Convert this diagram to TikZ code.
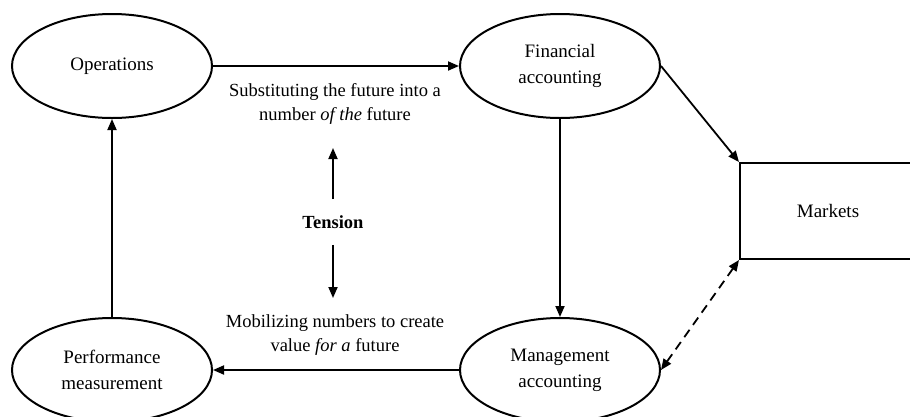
\documentclass[tikz,border=0pt]{standalone}
\usepackage{fontspec}
\setmainfont{Liberation Serif}
\usetikzlibrary{shapes,positioning,arrows.meta,calc}

\begin{document}
\begin{tikzpicture}[x=1pt,y=-1pt]

	\tikzstyle{stdell}=[draw, ellipse, line width=2pt, inner sep=0pt, minimum width=200pt, minimum height=104pt, align=center, font=\fontsize{19}{26}\selectfont];
	\tikzstyle{stdrect}=[draw, rectangle, line width=2pt, inner sep=0pt, minimum width=176pt, minimum height=96pt, font=\fontsize{19}{26}\selectfont];
	\tikzstyle{stdtext}=[align=center, inner sep=0pt, font=\fontsize{18.5}{24}\selectfont];
	\useasboundingbox (0,0) rectangle (910,416);
    \begin{scope}[>={Triangle[length=11pt,width=9pt]}, line width=1.8pt]

    	\node (ops) at (112,66) [stdell]{Operations};
    	\node (fin) at (560,66) [stdell]{Financial\\accounting};
    	\node (mgmt) at (560,370) [stdell]{Management\\accounting};
    	\node (perf) at (112,370) [stdell]{Performance\\measurement};
    	\node (markets) at (828,211) [stdrect]{Markets};

    	\node (subst) at (335,104) [stdtext]{Substituting the future into a\\number \textit{of the} future};
    	\node (mobil) at (335,335) [stdtext]{Mobilizing numbers to create\\value \textit{for a} future};
    	\node (tension) at (333,222) [stdtext, minimum height=44pt]{\textbf{Tension}};
    	\coordinate (tens_up) at (333,148);
    	\coordinate (tens_down) at (333,298);

    	\draw[->] (ops) -- (fin);
    	\draw[->] (fin) -- (mgmt);
    	\draw[->] (mgmt) -- (perf);
    	\draw[->] (perf) -- (ops);
    	\draw[->] (fin.east) -- (markets.north west);
    	\draw[<->, dashed, dash pattern=on 9pt off 6pt] (markets.south west) -- (mgmt.east);
    	\draw[->] (tension.north) -- (tens_up);
    	\draw[->] (tension.south) -- (tens_down);

    \end{scope}
\end{tikzpicture}
\end{document}
